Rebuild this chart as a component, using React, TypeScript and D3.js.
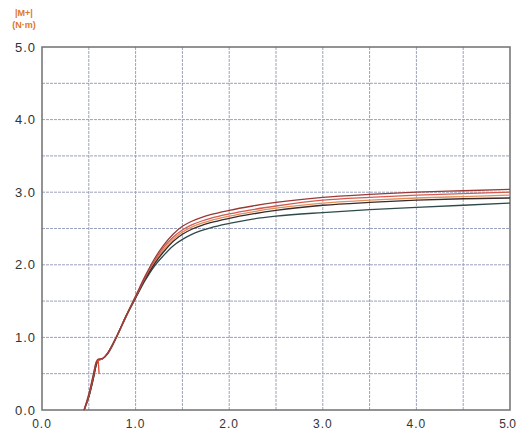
import React from "react";
import * as d3 from "d3";

const xs = [0.45, 0.5, 0.55, 0.58, 0.6, 0.65, 0.7, 0.8, 0.9, 1.0, 1.1, 1.2, 1.3, 1.4, 1.5, 1.6, 1.7, 1.8, 2.0, 2.25, 2.5, 3.0, 3.5, 4.0, 4.5, 5.0];
const seriesA = [0, 0.22, 0.5, 0.66, 0.7, 0.71, 0.78, 1.02, 1.3, 1.57, 1.84, 2.08, 2.27, 2.42, 2.53, 2.6, 2.65, 2.69, 2.75, 2.81, 2.86, 2.93, 2.97, 3.0, 3.02, 3.04];
const seriesB = [0, 0.2, 0.48, 0.66, 0.68, 0.71, 0.78, 1.02, 1.3, 1.56, 1.82, 2.05, 2.24, 2.38, 2.48, 2.55, 2.6, 2.64, 2.7, 2.76, 2.81, 2.89, 2.93, 2.96, 2.98, 3.0];
const seriesC = [0, 0.2, 0.47, 0.64, 0.69, 0.71, 0.78, 1.02, 1.3, 1.56, 1.81, 2.03, 2.21, 2.35, 2.45, 2.52, 2.57, 2.61, 2.67, 2.73, 2.78, 2.85, 2.89, 2.92, 2.94, 2.96];
const seriesD = [0, 0.18, 0.45, 0.63, 0.69, 0.71, 0.78, 1.02, 1.3, 1.55, 1.8, 2.01, 2.18, 2.32, 2.42, 2.49, 2.54, 2.58, 2.64, 2.7, 2.75, 2.82, 2.86, 2.89, 2.91, 2.92];
const seriesE = [0, 0.18, 0.44, 0.62, 0.68, 0.71, 0.77, 1.01, 1.29, 1.54, 1.78, 1.98, 2.13, 2.26, 2.35, 2.42, 2.47, 2.51, 2.57, 2.63, 2.67, 2.72, 2.76, 2.79, 2.82, 2.85];
const spikeX = [0.6, 0.61];
const spikeY = [0.69, 0.5];

const seriesList = [
  { values: seriesE, color: "#2f4a4a" },
  { values: seriesC, color: "#e0905a" },
  { values: seriesD, color: "#3a2a28" },
  { values: seriesB, color: "#d45a50" },
  { values: seriesA, color: "#9a3a36" },
];

const xTicks = [0, 1, 2, 3, 4, 5];
const yTicks = [0, 1, 2, 3, 4, 5];
const gridVals = [0.5, 1, 1.5, 2, 2.5, 3, 3.5, 4, 4.5];

const W = 517, H = 430;
const L = 42, R = 510, T = 47, B = 410;

export default function App() {
  const x = d3.scaleLinear().domain([0, 5]).range([L, R]);
  const y = d3.scaleLinear().domain([0, 5]).range([B, T]);
  const line = d3
    .line<number>()
    .x((_, i) => x(xs[i]))
    .y((d) => y(d))
    .curve(d3.curveMonotoneX);
  const spike = d3
    .line<number>()
    .x((_, i) => x(spikeX[i]))
    .y((d) => y(d));
  const font = "'Liberation Sans', Arial, sans-serif";
  return (
    <svg width={W} height={H} style={{ position: "absolute", left: 0, top: 0, background: "#fff" }}>
      <rect x={0} y={0} width={W} height={H} fill="#fff" />
      <text x={24} y={16} fontSize={9} fontWeight="bold" fill="#e07828" textAnchor="middle" fontFamily={font}>|M+|</text>
      <text x={24} y={28} fontSize={9} fontWeight="bold" fill="#e07828" textAnchor="middle" fontFamily={font}>(N·m)</text>
      {gridVals.map((v) => (
        <g key={v}>
          <line x1={x(v)} x2={x(v)} y1={T} y2={B} stroke="#9aa2bb" strokeWidth={1} strokeDasharray="3,1" />
          <line x1={L} x2={R} y1={y(v)} y2={y(v)} stroke="#9aa2bb" strokeWidth={1} strokeDasharray="3,1" />
        </g>
      ))}
      <rect x={L} y={T} width={R - L} height={B - T} fill="none" stroke="#707070" strokeWidth={1.5} />
      {yTicks.map((v) => (
        <text key={v} x={36} y={y(v) + 4.5} fontSize={13} fill="#333" textAnchor="end" fontFamily={font} letterSpacing={1}>
          {v.toFixed(1)}
        </text>
      ))}
      {xTicks.map((v, i) => (
        <text
          key={v}
          x={i === xTicks.length - 1 ? W - 1 : x(v)}
          y={428}
          fontSize={12}
          fill="#333"
          textAnchor={i === xTicks.length - 1 ? "end" : "middle"}
          fontFamily={font}
          letterSpacing={i === xTicks.length - 1 ? 0 : 1}
        >
          {v.toFixed(1)}
        </text>
      ))}
      {seriesList.map((s, i) => (
        <path key={i} d={line(s.values) || ""} fill="none" stroke={s.color} strokeWidth={1.3} />
      ))}
      <path d={spike(spikeY) || ""} fill="none" stroke="#e04a3a" strokeWidth={1.3} />
    </svg>
  );
}
